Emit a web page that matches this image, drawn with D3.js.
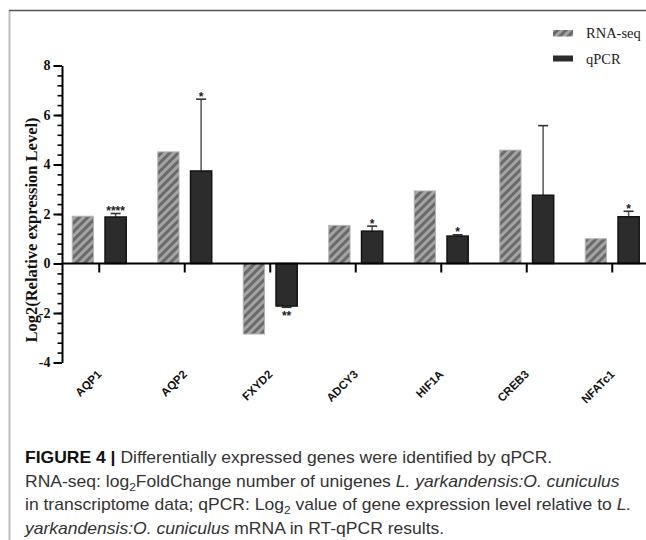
<!DOCTYPE html>
<html>
<head>
<meta charset="utf-8">
<script src="https://cdn.jsdelivr.net/npm/d3@7"></script>
<style>
  html, body { margin: 0; padding: 0; background: #fff; }
  svg { display: block; }
</style>
</head>
<body>
<svg id="chart" width="646" height="540"></svg>
<script>
const genes = ["AQP1", "AQP2", "FXYD2", "ADCY3", "HIF1A", "CREB3", "NFATc1"];
const seriesNames = ["RNA-seq", "qPCR"];
const rnaSeq = [1.91, 4.51, -2.85, 1.54, 2.93, 4.58, 1.00];
const qpcr = [1.88, 3.74, -1.72, 1.31, 1.11, 2.76, 1.89];
const qpcrErr = [0.14, 2.90, 0.05, 0.20, 0.05, 2.81, 0.22];
const significance = ["****", "*", "**", "*", "*", "", "*"];
const yTicks = [-4, -2, 0, 2, 4, 6, 8];
const yTitle = "Log2(Relative expression Level)";

const svg = d3.select("#chart");

// frame
svg.append("line").attr("x1", 9.5).attr("x2", 9.5).attr("y1", 10).attr("y2", 540)
  .attr("stroke", "#bdbdbd").attr("stroke-width", 2);
svg.append("line").attr("x1", 9).attr("x2", 646).attr("y1", 10.5).attr("y2", 10.5)
  .attr("stroke", "#555").attr("stroke-width", 1.5);

// hatch pattern
const defs = svg.append("defs");
const pat = defs.append("pattern").attr("id", "hatch")
  .attr("patternUnits", "userSpaceOnUse").attr("width", 6).attr("height", 6)
  .attr("patternTransform", "rotate(45)");
pat.append("rect").attr("width", 6).attr("height", 6).attr("fill", "#a4a4a4");
pat.append("rect").attr("width", 3).attr("height", 6).attr("fill", "#6a6a6a");

// scales
const y = d3.scaleLinear().domain([-4, 8]).range([362.5, 65.5]);
const x0 = d3.scaleBand().domain(genes).range([56.5, 655]).paddingInner(0).paddingOuter(0);
const x1 = d3.scaleBand().domain(seriesNames).range([-27, 27]).paddingInner(0.35);

const axisX = 62;

// y axis minor ticks
const minorG = svg.append("g").attr("transform", `translate(${axisX},0)`)
  .call(d3.axisLeft(y).tickValues(d3.range(-4, 8.001, 0.4)).tickSize(4.5).tickSizeOuter(0).tickFormat(""));
minorG.select(".domain").remove();
minorG.selectAll(".tick line").attr("stroke", "#000").attr("stroke-width", 1.6);

// y axis major
const yAxisG = svg.append("g").attr("transform", `translate(${axisX},0)`)
  .call(d3.axisLeft(y).tickValues(yTicks).tickSize(8.5).tickSizeOuter(0).tickPadding(3)
    .tickFormat(d => String(d)));
yAxisG.select(".domain").attr("stroke", "#000").attr("stroke-width", 2);
yAxisG.selectAll(".tick line").attr("stroke", "#000").attr("stroke-width", 2);
yAxisG.selectAll(".tick text")
  .attr("font-family", "'Liberation Serif', 'Times New Roman', serif")
  .attr("font-weight", "bold").attr("font-size", 14).attr("fill", "#111");

// y title
svg.append("text")
  .attr("transform", `translate(37,230) rotate(-90)`)
  .attr("text-anchor", "middle")
  .attr("font-family", "'Liberation Serif', 'Times New Roman', serif")
  .attr("font-weight", "bold").attr("font-size", 16.5).attr("fill", "#111")
  .text(yTitle);

// bars
const rows = genes.map((g, i) => ({ gene: g, rna: rnaSeq[i], q: qpcr[i], err: qpcrErr[i], sig: significance[i] }));
const gGroups = svg.append("g").selectAll("g").data(rows).join("g")
  .attr("transform", d => `translate(${x0(d.gene) + x0.bandwidth() / 2},0)`);

gGroups.append("rect")
  .attr("x", x1("RNA-seq")).attr("width", x1.bandwidth())
  .attr("y", d => y(Math.max(0, d.rna)))
  .attr("height", d => Math.abs(y(d.rna) - y(0)))
  .attr("fill", "url(#hatch)").attr("stroke", "#b4b4b4").attr("stroke-width", 1);

// error bars for qPCR
gGroups.each(function (d) {
  const g = d3.select(this);
  const cx = x1("qPCR") + x1.bandwidth() / 2;
  const end = d.q >= 0 ? d.q + d.err : d.q - d.err;
  g.append("line").attr("x1", cx).attr("x2", cx).attr("y1", y(d.q)).attr("y2", y(end))
    .attr("stroke", "#555").attr("stroke-width", 1.5);
  g.append("line").attr("x1", cx - 5).attr("x2", cx + 5).attr("y1", y(end)).attr("y2", y(end))
    .attr("stroke", "#333").attr("stroke-width", 1.6);
  if (d.sig) {
    g.append("text").attr("x", cx).attr("y", d.q >= 0 ? y(end) + 1.5 : y(end) + 12.5)
      .attr("text-anchor", "middle")
      .attr("font-family", "'Liberation Sans', Arial, sans-serif").attr("font-weight", "bold")
      .attr("font-size", 12).attr("fill", "#222").text(d.sig);
  }
});

gGroups.append("rect")
  .attr("x", x1("qPCR")).attr("width", x1.bandwidth())
  .attr("y", d => y(Math.max(0, d.q)))
  .attr("height", d => Math.abs(y(d.q) - y(0)))
  .attr("fill", "#2c2c2c").attr("stroke", "#111").attr("stroke-width", 1.4);

// x axis (zero line + ticks)
const xAxisG = svg.append("g").attr("transform", `translate(0,${y(0)})`)
  .call(d3.axisBottom(x0).tickSize(9).tickSizeOuter(0).tickFormat(""));
xAxisG.select(".domain").remove();
xAxisG.selectAll(".tick line").attr("stroke", "#000").attr("stroke-width", 2);
svg.append("line").attr("x1", axisX).attr("x2", 646).attr("y1", y(0)).attr("y2", y(0))
  .attr("stroke", "#000").attr("stroke-width", 2.2);

// x labels
svg.append("g").selectAll("text").data(genes).join("text")
  .attr("transform", d => `translate(${x0(d) + x0.bandwidth() / 2 + 3},375) rotate(-45)`)
  .attr("text-anchor", "end")
  .attr("font-family", "'Liberation Sans', Arial, sans-serif").attr("font-weight", "bold")
  .attr("font-size", 11.5).attr("fill", "#111").text(d => d);

// legend
const legend = svg.append("g");
legend.append("rect").attr("x", 553).attr("y", 30).attr("width", 20).attr("height", 6.5)
  .attr("fill", "url(#hatch)");
legend.append("rect").attr("x", 553).attr("y", 55.5).attr("width", 20).attr("height", 6)
  .attr("fill", "#2c2c2c");
legend.selectAll("text").data(seriesNames).join("text")
  .attr("x", 586).attr("y", (d, i) => 38 + i * 25.5)
  .attr("font-family", "'Liberation Serif', 'Times New Roman', serif")
  .attr("font-size", 14.5).attr("fill", "#222").text(d => d);

// caption
const capFont = "'Liberation Sans', Arial, sans-serif";
const lines = [
  [["FIGURE 4 |", "b"], [" Differentially expressed genes were identified by qPCR.", ""]],
  [["RNA-seq: log", ""], ["2", "sub"], ["FoldChange number of unigenes ", ""], ["L. yarkandensis:O. cuniculus", "i"]],
  [["in transcriptome data; qPCR: Log", ""], ["2", "sub"], [" value of gene expression level relative to ", ""], ["L.", "i"]],
  [["yarkandensis:O. cuniculus", "i"], [" mRNA in RT-qPCR results.", ""]]
];
const capG = svg.append("g");
const lineTexts = [];
lines.forEach((parts, i) => {
  const t = capG.append("text").attr("x", 0).attr("y", 463.5 + i * 23.5)
    .attr("font-family", capFont).attr("font-size", 16).attr("fill", "#333");
  let afterSub = false;
  parts.forEach(([s, kind]) => {
    const sp = t.append("tspan").text(s);
    if (afterSub) { sp.attr("dy", -4); afterSub = false; }
    if (kind === "b") sp.attr("font-weight", "bold").attr("fill", "#111");
    if (kind === "i") sp.attr("font-style", "italic");
    if (kind === "sub") { sp.attr("font-size", 11).attr("dy", 4); afterSub = true; }
  });
  lineTexts.push(t.node());
});
const wAvg = (lineTexts[1].getComputedTextLength() + lineTexts[2].getComputedTextLength()) / 2;
capG.attr("transform", `translate(25,0) scale(${601 / wAvg},1)`);
</script>
</body>
</html>
